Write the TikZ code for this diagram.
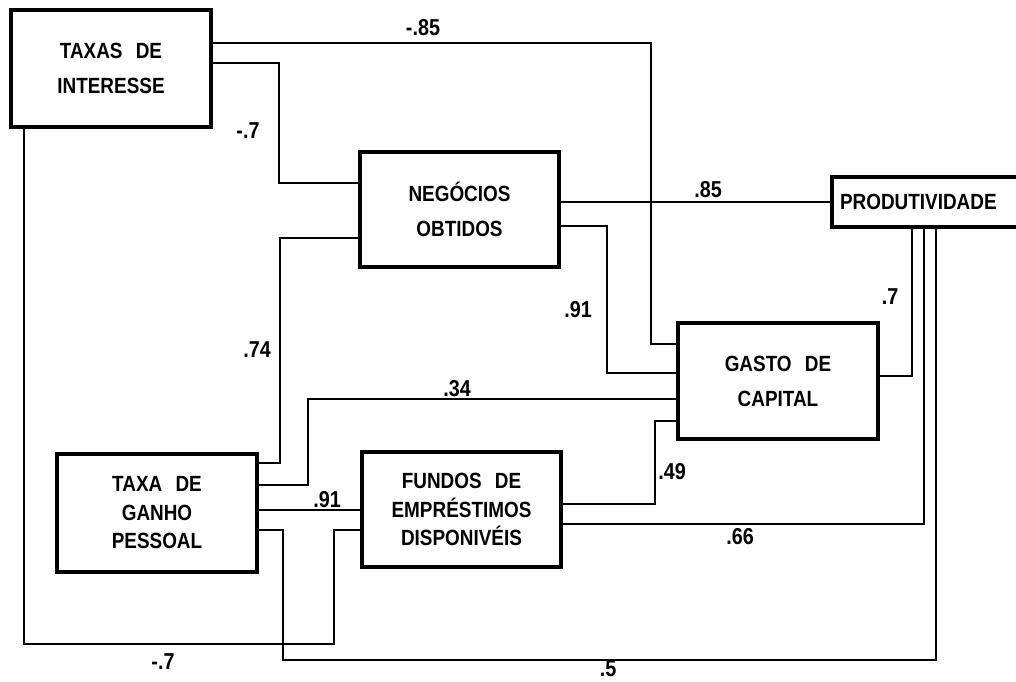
\documentclass[tikz,border=0pt]{standalone}
\usepackage{fontspec}
\setmainfont{Liberation Sans}[FakeStretch=0.86]
\usepackage{tikz}
\usetikzlibrary{positioning,calc}
\tikzset{
  box/.style={draw,line width=3.2pt,inner sep=0pt,align=center,
    font=\bfseries\fontsize{22}{35}\selectfont},
  tallbox/.style={box,font=\bfseries\fontsize{22}{28.5}\selectfont},
  link/.style={line width=1.8pt},
  coef/.style={font=\bfseries\fontsize{23}{23}\selectfont,inner sep=0pt}
}
\newcommand{\wsp}{\hspace{8pt} }

\begin{document}
\begin{tikzpicture}[x=1pt,y=-1pt]
  \useasboundingbox (0,0) rectangle (1016,681);
  % the six variables
  \node[box,minimum width=200,minimum height=117] (taxas) at (111,68.5) {TAXAS\wsp DE\\INTERESSE};
  \node[box,minimum width=199,minimum height=115] (negocios) at (459.5,209.5) {NEG\'OCIOS\\OBTIDOS};
  \node[box,minimum height=50,text width=192pt,inner xsep=8pt,align=left] (prod) at (936,202) {PRODUTIVIDADE};
  \node[box,minimum width=200,minimum height=116] (gasto) at (778,381) {GASTO\wsp DE\\CAPITAL};
  \node[tallbox,minimum width=200,minimum height=118] (ganho) at (157,513) {TAXA\wsp DE\\GANHO\\PESSOAL};
  \node[tallbox,minimum width=199,minimum height=115] (fundos) at (461.5,509.5) {FUNDOS\wsp DE\\EMPR\'ESTIMOS\\DISPONIV\'EIS};
  % paths out of TAXAS DE INTERESSE
  \draw[link] (taxas.east |- 0,43) -| (651,344) -- (gasto.west |- 0,344);
  \draw[link] (taxas.east |- 0,63) -| (279,183) -- (negocios.west |- 0,183);
  \draw[link] (taxas.south -| 24,0) -- (24,644) -| (334,530) -- (fundos.west |- 0,530);
  % paths out of NEGOCIOS OBTIDOS
  \draw[link] (negocios.east |- prod.west) -- (prod.west);
  \draw[link] (negocios.east |- 0,226) -| (607,373) -- (gasto.west |- 0,373);
  % paths out of TAXA DE GANHO PESSOAL
  \draw[link] (ganho.east |- 0,463) -| (280,238) -- (negocios.west |- 0,238);
  \draw[link] (ganho.east |- 0,485) -| (308,399) -- (gasto.west |- 0,399);
  \draw[link] (ganho.east |- 0,510) -- (fundos.west |- 0,510);
  \draw[link] (ganho.east |- 0,530) -| (283,660) -| (prod.south -| 936,0);
  % paths out of FUNDOS and GASTO
  \draw[link] (fundos.east |- 0,504) -| (655,421) -- (gasto.west |- 0,421);
  \draw[link] (fundos.east |- 0,524) -| (prod.south -| 924,0);
  \draw[link] (gasto.east |- 0,376) -| (prod.south -| 912,0);
  % coefficients
  \node[coef] (k1) at (423,28) {-.85};
  \node[coef] (k2) at (248,131) {-.7};
  \node[coef] (k3) at (163,662) {-.7};
  \node[coef] (k4) at (708,190) {.85};
  \node[coef] (k5) at (578,310) {.91};
  \node[coef] (k6) at (257,350) {.74};
  \node[coef] (k7) at (457,389) {.34};
  \node[coef] (k8) at (327,500) {.91};
  \node[coef] (k9) at (608,669) {.5};
  \node[coef] (k10) at (672,472) {.49};
  \node[coef] (k11) at (740,537) {.66};
  \node[coef] (k12) at (890,297) {.7};
\end{tikzpicture}
\end{document}
